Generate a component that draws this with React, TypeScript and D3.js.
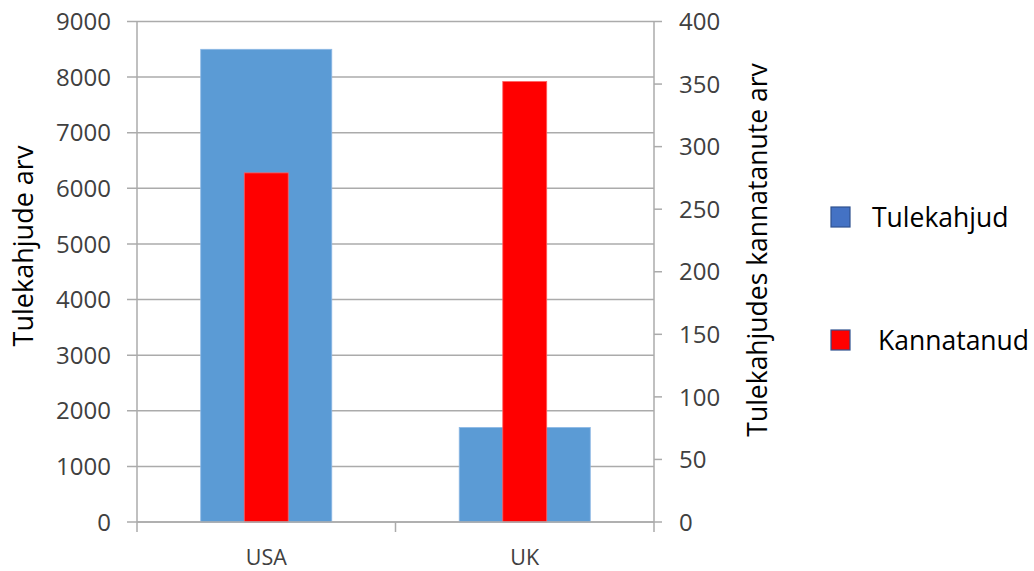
import React from "react";
import * as d3 from "d3";

const categories = ["USA", "UK"];
const fires = [8500, 1700];
const victims = [279, 352];
const leftTicks = [0, 1000, 2000, 3000, 4000, 5000, 6000, 7000, 8000, 9000];
const rightTicks = [0, 50, 100, 150, 200, 250, 300, 350, 400];
const seriesNames = ["Tulekahjud", "Kannatanud"];
const leftTitle = "Tulekahjude arv";
const rightTitle = "Tulekahjudes kannatanute arv";

const W = 1034;
const H = 571;
const plotLeft = 137;
const plotRight = 654;
const plotTop = 21.5;
const plotBottom = 522;
const font = "'Open Sans', Calibri, sans-serif";

export default function App() {
  const x = d3.scaleBand<string>().domain(categories).range([plotLeft, plotRight]).padding(0);
  const yL = d3.scaleLinear().domain([0, 9000]).range([plotBottom, plotTop]);
  const yR = d3.scaleLinear().domain([0, 400]).range([plotBottom, plotTop]);
  const bw = x.bandwidth();
  const blueW = bw * 0.507;
  const redW = bw * 0.17;
  const grid = "#ababab";
  const tickColor = "#404040";

  return (
    <svg width={W} height={H} style={{ position: "absolute", left: 0, top: 0, background: "#fff" }}>
      {/* gridlines */}
      {leftTicks.map((t) => (
        <line key={"g" + t} x1={plotLeft - 10} x2={plotRight} y1={yL(t)} y2={yL(t)} stroke={grid} strokeWidth={1.5} />
      ))}
      {/* bars */}
      {categories.map((c, i) => {
        const cx = (x(c) as number) + bw / 2;
        return (
          <g key={c}>
            <rect x={cx - blueW / 2} y={yL(fires[i])} width={blueW} height={plotBottom - yL(fires[i])} fill="#5B9BD5" stroke="#8DB8E5" strokeWidth={0.8} />
            <rect x={cx - redW / 2} y={yR(victims[i])} width={redW} height={plotBottom - yR(victims[i])} fill="#FF0000" stroke="#FF6060" strokeWidth={0.8} />
          </g>
        );
      })}
      {/* left axis */}
      <line x1={plotLeft} x2={plotLeft} y1={plotTop} y2={plotBottom + 10} stroke={grid} strokeWidth={1.5} />
      {leftTicks.map((t) => (
        <text key={"lt" + t} x={111} y={yL(t)} dy="0.36em" textAnchor="end" fontFamily={font} fontSize={24} fill={tickColor}>
          {t}
        </text>
      ))}
      {/* right axis */}
      <line x1={plotRight} x2={plotRight} y1={plotTop} y2={plotBottom + 10} stroke={grid} strokeWidth={1.5} />
      {rightTicks.map((t) => (
        <g key={"rt" + t}>
          <line x1={plotRight} x2={plotRight + 8} y1={yR(t)} y2={yR(t)} stroke={grid} strokeWidth={1.5} />
          <text x={679} y={yR(t)} dy="0.36em" textAnchor="start" fontFamily={font} fontSize={24} fill={tickColor}>
            {t}
          </text>
        </g>
      ))}
      {/* bottom axis */}
      <line x1={plotLeft} x2={plotRight} y1={plotBottom} y2={plotBottom} stroke={grid} strokeWidth={1.5} />
      {[plotLeft + bw].map((v) => (
        <line key={"bt" + v} x1={v} x2={v} y1={plotBottom} y2={plotBottom + 10} stroke={grid} strokeWidth={1.5} />
      ))}
      {categories.map((c) => (
        <text key={"cl" + c} x={(x(c) as number) + bw / 2} y={557.5} dy="0.36em" textAnchor="middle" fontFamily={font} fontSize={21.5} fill={tickColor}>
          {c}
        </text>
      ))}
      {/* axis titles */}
      <text transform={`translate(23,246) rotate(-90)`} dy="0.36em" textAnchor="middle" fontFamily={font} fontSize={27} fill="#000">
        {leftTitle}
      </text>
      <text transform={`translate(757,250) rotate(-90)`} dy="0.36em" textAnchor="middle" fontFamily={font} fontSize={26.5} fill="#000">
        {rightTitle}
      </text>
      {/* legend */}
      <rect x={831} y={207} width={19} height={20} fill="#4472C4" stroke="#2F528F" strokeWidth={1.2} />
      <text x={872} y={217} dy="0.36em" fontFamily={font} fontSize={26.5} fill="#000">
        {seriesNames[0]}
      </text>
      <rect x={831} y={330} width={19} height={20} fill="#FF0000" stroke="#2F528F" strokeWidth={1.2} />
      <text x={878} y={340} dy="0.36em" fontFamily={font} fontSize={26.5} fill="#000">
        {seriesNames[1]}
      </text>
    </svg>
  );
}
